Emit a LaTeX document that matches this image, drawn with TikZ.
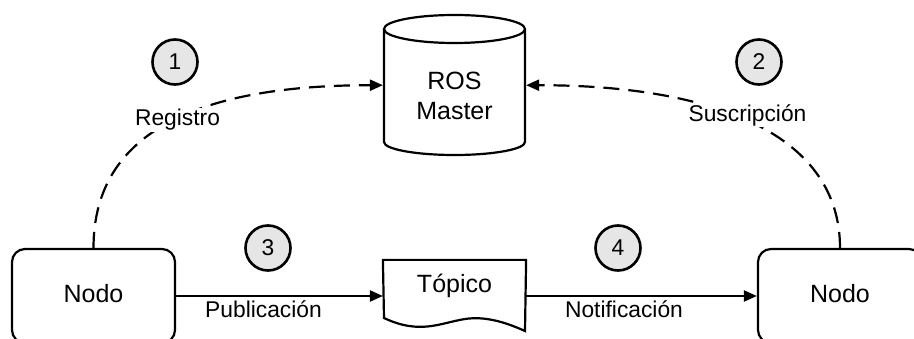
\documentclass[tikz,border=0pt]{standalone}
\usepackage{fontspec}
\setmainfont{Liberation Sans}
\usetikzlibrary{arrows.meta}
\definecolor{circfill}{HTML}{E6E6E6}
\begin{document}
\begin{tikzpicture}[x=1pt,y=-1pt,line width=2.2pt,
  bigfont/.style={font=\fontsize{25}{30.5}\selectfont},
  smallfont/.style={font=\fontsize{22.8}{27}\selectfont},
  nodebox/.style={draw,rounded corners=13pt,minimum width=163pt,minimum height=94pt,
    inner sep=0pt,text height=18.2pt,text depth=6pt,bigfont},
  stepnum/.style={circle,draw,line width=2.6pt,fill=circfill,minimum size=45pt,inner sep=0pt,smallfont},
  lbl/.style={smallfont,inner sep=1pt},
  lblbg/.style={lbl,fill=white},
  dashconn/.style={dash pattern=on 16pt off 9pt,-{Triangle[length=13pt,width=11pt]}},
  solidconn/.style={-{Triangle[length=13pt,width=11pt]}}
]
\useasboundingbox (0,0) rectangle (914,339);
\clip (0,0) rectangle (914,339);

% nodes
\node[nodebox] (n1) at (93.5,296) {Nodo};
\node[nodebox,minimum width=164pt] (n2) at (840,296) {Nodo};

% ROS Master cylinder
\draw[fill=white] (384,29) -- (384,142) arc[start angle=180,end angle=0,x radius=70.5,y radius=13] -- (525,29);
\draw (454.5,29) ellipse[x radius=70.5,y radius=14];
\node[bigfont,align=center,minimum width=141pt,inner sep=0pt] (master) at (454.5,95.7) {ROS\\Master};

% Topico document shape
\node[minimum width=141pt,minimum height=70pt,inner sep=0pt] (t) at (454.5,296) {};
\draw (t.north west) -- (t.north east) -- (525,331)
  .. controls (505,322) and (485,316) .. (465,319)
  .. controls (440,323) and (420,335) .. (384,318) -- cycle;
\node[bigfont,inner sep=0pt] (ttext) at (454.5,285.5) {Tópico};

% connectors
\draw[dashconn] (n1.north) .. controls +(0,-110) and +(-195,0) .. ([yshift=10.5pt]master.west);
\draw[dashconn] (n2.north) .. controls +(0,-110) and +(195,0) .. ([yshift=10.5pt]master.east);
\draw[solidconn] (n1.east) -- (t.west);
\draw[solidconn] (t.east) -- (n2.west);

% labels
\node[lblbg] (lreg) at (177.5,120) {Registro};
\node[lblbg] (lsus) at (747.5,115) {Suscripción};
\node[lbl] (lpub) at (263.5,309.5) {Publicación};
\node[lbl] (lnot) at (624,309) {Notificación};

% step circles
\node[stepnum] (s1) at (175,62) {1};
\node[stepnum] (s2) at (759,62) {2};
\node[stepnum] (s3) at (268,248) {3};
\node[stepnum] (s4) at (618,248) {4};
\end{tikzpicture}
\end{document}
